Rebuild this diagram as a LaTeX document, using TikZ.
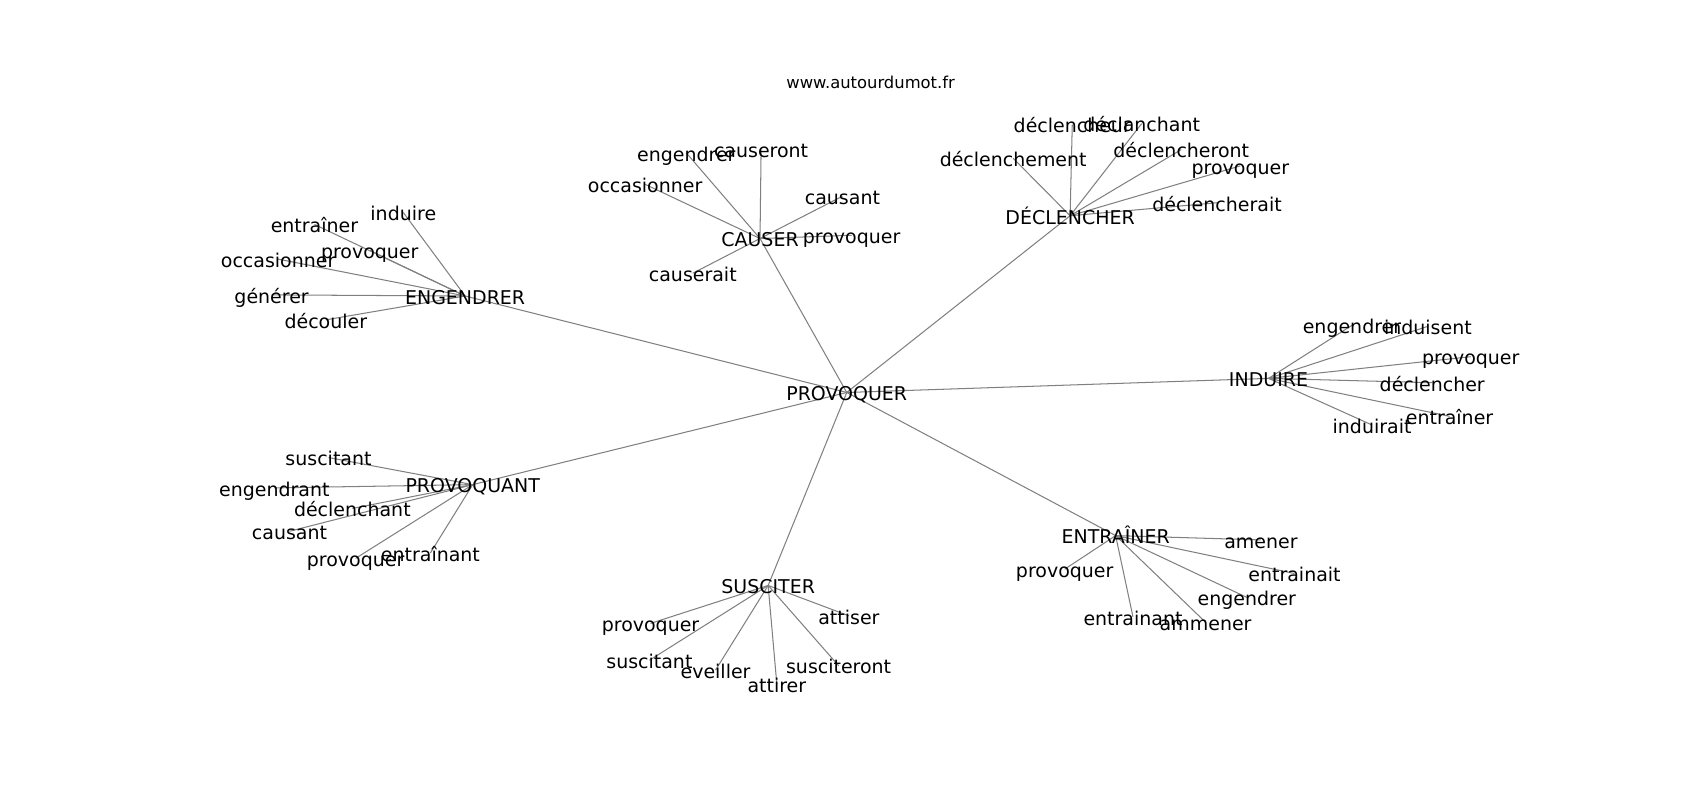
\documentclass[tikz,border=0pt]{standalone}
\usepackage{fontspec}
\setmainfont{DejaVu Sans}
\usetikzlibrary{backgrounds}
\definecolor{edgegray}{RGB}{128,128,128}
\begin{document}
\begin{tikzpicture}[x=1pt,y=-1pt,
  lbl/.style={inner sep=0pt, font=\fontsize{17.5}{20}\selectfont, text height=17pt, text depth=1.7pt, anchor=center},
  ttl/.style={inner sep=0pt, font=\fontsize{15.1}{18}\selectfont, text height=14pt, text depth=2pt, anchor=center},
  lnk/.style={draw=edgegray, line width=0.95pt}]
\useasboundingbox (0,0) rectangle (1568,738);

\node[ttl] (title) at (803,76) {www.autourdumot.fr};

% hubs
\node[lbl] (P) at (781,362) {PROVOQUER};
\node[lbl] (E) at (429,273) {ENGENDRER};
\node[lbl] (C) at (701,220) {CAUSER};
\node[lbl] (D) at (987,199) {DÉCLENCHER};
\node[lbl] (I) at (1170,349) {INDUIRE};
\node[lbl] (T) at (1029,494) {ENTRAÎNER};
\node[lbl] (S) at (708.5,540) {SUSCITER};
\node[lbl] (Q) at (436,447) {PROVOQUANT};

% ENGENDRER leaves
\node[lbl] (E1) at (372,196) {induire};
\node[lbl] (E2) at (290,207) {entraîner};
\node[lbl] (E3) at (341,231) {provoquer};
\node[lbl] (E4) at (256.5,239) {occasionner};
\node[lbl] (E5) at (250.5,272) {générer};
\node[lbl] (E6) at (300.5,295) {découler};

% CAUSER leaves
\node[lbl] (C1) at (633,141) {engendrer};
\node[lbl] (C2) at (702,138) {causeront};
\node[lbl] (C3) at (595,170) {occasionner};
\node[lbl] (C4) at (777,181) {causant};
\node[lbl] (C5) at (785.5,217) {provoquer};
\node[lbl] (C6) at (639,252) {causerait};

% DECLENCHER leaves
\node[lbl] (D1) at (989,115) {déclencheur};
\node[lbl] (D2) at (1053,114) {déclanchant};
\node[lbl] (D3) at (934.5,146) {déclenchement};
\node[lbl] (D4) at (1089.5,138) {déclencheront};
\node[lbl] (D5) at (1144,153) {provoquer};
\node[lbl] (D6) at (1122.5,187) {déclencherait};

% INDUIRE leaves
\node[lbl] (I1) at (1247,300) {engendrer};
\node[lbl] (I2) at (1317,301) {induisent};
\node[lbl] (I3) at (1356.5,329) {provoquer};
\node[lbl] (I4) at (1321,353) {déclencher};
\node[lbl] (I5) at (1337,384) {entraîner};
\node[lbl] (I6) at (1265.5,392) {induirait};

% ENTRAINER leaves
\node[lbl] (T1) at (1163,498) {amener};
\node[lbl] (T2) at (982,525) {provoquer};
\node[lbl] (T3) at (1194,529) {entrainait};
\node[lbl] (T4) at (1150,551) {engendrer};
\node[lbl] (T5) at (1045,569) {entrainant};
\node[lbl] (T6) at (1112,574) {ammener};

% SUSCITER leaves
\node[lbl] (S1) at (783,568) {attiser};
\node[lbl] (S2) at (600,575) {provoquer};
\node[lbl] (S3) at (599,609) {suscitant};
\node[lbl] (S4) at (660,618) {eveiller};
\node[lbl] (S5) at (716.5,631) {attirer};
\node[lbl] (S6) at (773.5,614) {susciteront};

% PROVOQUANT leaves
\node[lbl] (Q1) at (303,422) {suscitant};
\node[lbl] (Q2) at (253,450) {engendrant};
\node[lbl] (Q3) at (325,469) {déclenchant};
\node[lbl] (Q4) at (267,490) {causant};
\node[lbl] (Q5) at (328,515) {provoquer};
\node[lbl] (Q6) at (397,510) {entraînant};

\begin{scope}[on background layer]
\fill[white] (0,0) rectangle (1568,738);
\foreach \h in {E,C,D,I,T,S,Q}
  \draw[lnk] (P.center) -- (\h.center);
\foreach \h in {E,C,D,I,T,S,Q}
  \foreach \k in {1,...,6}
    \draw[lnk] (\h.center) -- (\h\k.center);
\end{scope}
\end{tikzpicture}
\end{document}
